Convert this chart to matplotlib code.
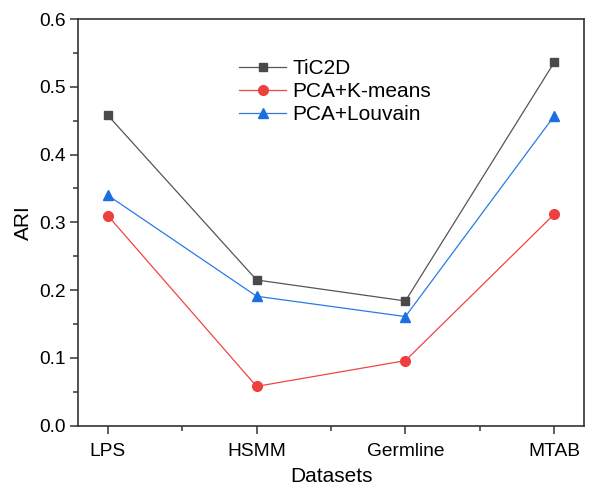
import matplotlib.pyplot as plt
from matplotlib.ticker import MultipleLocator

plt.rcParams['font.family'] = ['Liberation Sans', 'DejaVu Sans']

datasets = ['LPS', 'HSMM', 'Germline', 'MTAB']
tic2d = [0.458, 0.215, 0.184, 0.536]
pca_kmeans = [0.310, 0.058, 0.096, 0.312]
pca_louvain = [0.340, 0.191, 0.161, 0.457]

x = range(len(datasets))

fig = plt.figure(figsize=(5.93, 4.88), dpi=100)
ax = fig.add_axes([78/593, 1 - 425.7/488, (584-78)/593, (425.7-19)/488])

ax.plot(x, tic2d, color='#555555', lw=0.9, marker='s', ms=6,
        mfc='#4a4a4a', mec='#4a4a4a', label='TiC2D')
ax.plot(x, pca_kmeans, color='#f04545', lw=0.9, marker='o', ms=7,
        mfc='#ef4040', mec='#ef4040', label='PCA+K-means')
ax.plot(x, pca_louvain, color='#2a7ae6', lw=0.9, marker='^', ms=7.5,
        mfc='#1b6fe0', mec='#1b6fe0', label='PCA+Louvain')

ax.set_xlim(-0.2, 3.2)
ax.set_ylim(0, 0.6)
ax.set_xticks(list(x))
ax.set_xticklabels(datasets)
ax.xaxis.set_minor_locator(MultipleLocator(0.5))
ax.yaxis.set_major_locator(MultipleLocator(0.1))
ax.yaxis.set_minor_locator(MultipleLocator(0.05))
ax.yaxis.set_major_formatter(plt.FormatStrFormatter('%.1f'))

ax.tick_params(which='major', direction='out', length=5.5, width=1.1, labelsize=13.8, color='#333333')
ax.tick_params(which='minor', direction='out', length=3.5, width=1.1, color='#333333')
ax.tick_params(axis='x', which='major', pad=7)
for s in ax.spines.values():
    s.set_linewidth(1.2)
    s.set_color('#333333')

ax.set_xlabel('Datasets', fontsize=15, labelpad=5)
ax.set_ylabel('ARI', fontsize=15, labelpad=4)

ax.legend(loc='upper left', bbox_to_anchor=(0.282, 0.948), frameon=False,
          fontsize=15, handlelength=2.25, handletextpad=0.3, labelspacing=0.2)

fig.savefig('out.png', dpi=100)
